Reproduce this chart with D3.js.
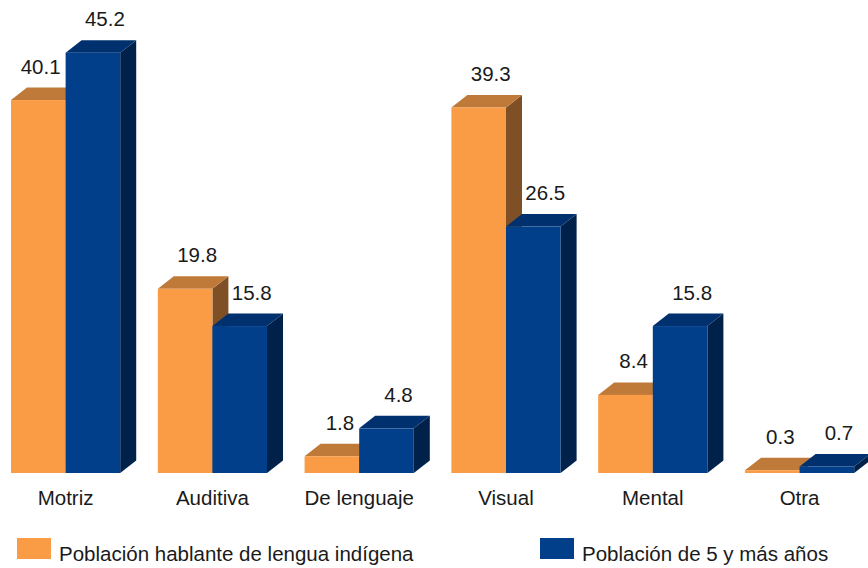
<!DOCTYPE html>
<html>
<head>
<meta charset="utf-8">
<script src="https://cdn.jsdelivr.net/npm/d3@7/dist/d3.min.js"></script>
<style>
  html, body { margin: 0; padding: 0; background: #ffffff; }
  svg { display: block; font-family: "Liberation Sans", Arial, sans-serif; }
</style>
</head>
<body>
<svg id="chart" width="868" height="568"></svg>
<script>
const categories = ["Motriz", "Auditiva", "De lenguaje", "Visual", "Mental", "Otra"];
const seriesNames = ["Población hablante de lengua indígena", "Población de 5 y más años"];
const indigena = [40.1, 19.8, 1.8, 39.3, 8.4, 0.3];
const poblacion5 = [45.2, 15.8, 4.8, 26.5, 15.8, 0.7];

const colors = [
  { front: "#FA9C46", top: "#BF7A3A", side: "#7F4F25" },
  { front: "#023F8B", top: "#00306E", side: "#00214A" }
];

const svg = d3.select("#chart");
const baseY = 473;
const depthX = 16, depthY = 12.5;

const x0 = d3.scaleBand().domain(categories).range([11, 854.2]).paddingInner(0.256).paddingOuter(0);
const x1 = d3.scaleBand().domain([0, 1]).range([0, x0.bandwidth()]).padding(0);
const y = d3.scaleLinear().domain([0, 50]).range([baseY, baseY - 465]);

const seriesData = [indigena, poblacion5];

seriesData.forEach((vals, s) => {
  const g = svg.append("g");
  categories.forEach((c, i) => {
    const xl = x0(c) + x1(s);
    const w = x1.bandwidth();
    const yt = y(vals[i]);
    const xr = xl + w;
    // side face
    g.append("path")
      .attr("d", `M${xr},${yt} L${xr + depthX},${yt - depthY} L${xr + depthX},${baseY - depthY} L${xr},${baseY} Z`)
      .attr("fill", colors[s].side);
    // top face
    g.append("path")
      .attr("d", `M${xl},${yt} L${xl + depthX},${yt - depthY} L${xr + depthX},${yt - depthY} L${xr},${yt} Z`)
      .attr("fill", colors[s].top);
    // front face
    g.append("rect")
      .attr("x", xl).attr("y", yt)
      .attr("width", w).attr("height", baseY - yt)
      .attr("fill", colors[s].front);
  });
});

// value labels
categories.forEach((c, i) => {
  const wBar = x1.bandwidth();
  // orange label
  const xl0 = x0(c) + x1(0);
  const yt0 = y(indigena[i]);
  const lab0 = svg.append("text")
    .attr("font-size", 20.5).attr("fill", "#1a1a1a")
    .attr("y", yt0 - depthY - 14)
    .text(indigena[i].toFixed(1));
  if (poblacion5[i] > indigena[i]) {
    lab0.attr("text-anchor", "end").attr("x", x0(c) + x1(1) - 5);
  } else {
    lab0.attr("text-anchor", "middle").attr("x", xl0 + wBar / 2 + depthX / 2 + 4);
  }
  // blue label
  const xl1 = x0(c) + x1(1);
  const yt1 = y(poblacion5[i]);
  svg.append("text")
    .attr("font-size", 20.5).attr("fill", "#1a1a1a")
    .attr("text-anchor", "middle")
    .attr("x", xl1 + wBar / 2 + depthX / 2 + 4)
    .attr("y", yt1 - depthY - 14)
    .text(poblacion5[i].toFixed(1));
});

// category labels
categories.forEach(c => {
  svg.append("text")
    .attr("x", x0(c) + x0.bandwidth() / 2)
    .attr("y", 505)
    .attr("text-anchor", "middle")
    .attr("font-size", 20.5)
    .attr("fill", "#1a1a1a")
    .text(c);
});

// legend
const legendX = [17, 540];
seriesNames.forEach((n, s) => {
  svg.append("rect")
    .attr("x", legendX[s]).attr("y", 538)
    .attr("width", 34).attr("height", 21)
    .attr("fill", colors[s].front);
  svg.append("text")
    .attr("x", legendX[s] + 42).attr("y", 561)
    .attr("font-size", 20.5).attr("fill", "#1a1a1a")
    .text(n);
});
</script>
</body>
</html>
